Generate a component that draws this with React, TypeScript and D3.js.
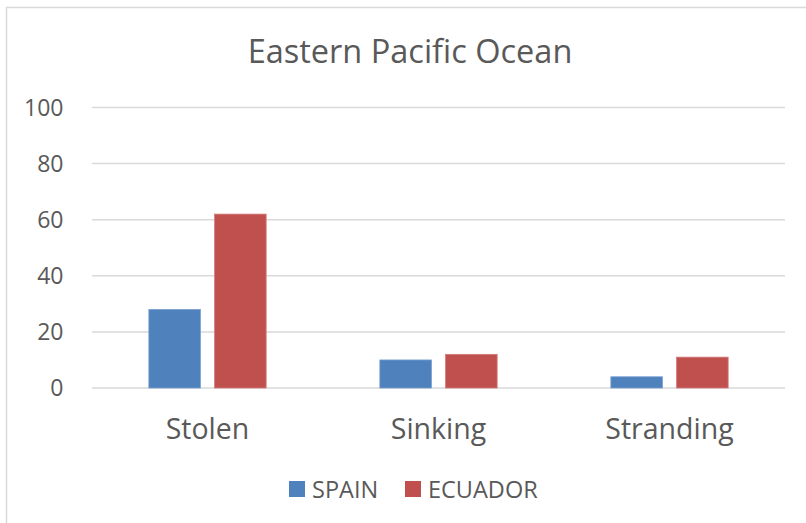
import React, { useEffect, useRef } from 'react';
import * as d3 from 'd3';

const categories = ['Stolen', 'Sinking', 'Stranding'];
const series = ['SPAIN', 'ECUADOR'];
const spainValues = [28, 10, 4];
const ecuadorValues = [62, 12, 11];
const yTicks = [0, 20, 40, 60, 80, 100];
const colors = ['#4F81BD', '#C0504D'];

const W = 806;
const H = 523;

const App = () => {
    const ref = useRef<SVGSVGElement>(null);

    useEffect(() => {
        if (!ref.current) return;
        const svg = d3.select(ref.current);
        svg.selectAll('*').remove();

        const font = "'Open Sans', sans-serif";
        const textColor = '#595959';
        const left = 92, right = 785, top = 107.5, bottom = 388;

        // chart frame
        svg.append('rect')
            .attr('x', 6.5).attr('y', 7.5)
            .attr('width', W + 20).attr('height', H + 20)
            .attr('fill', 'white')
            .attr('stroke', '#d9d9d9')
            .attr('stroke-width', 1.5);

        const x0 = d3.scaleBand().domain(categories).range([left, right]);
        const groupW = 117.3;
        const x1 = d3.scaleBand().domain(series)
            .range([x0.bandwidth() / 2 - groupW / 2, x0.bandwidth() / 2 + groupW / 2])
            .paddingInner(0.215);
        const y = d3.scaleLinear().domain([0, 100]).range([bottom, top]);

        svg.append('text')
            .attr('x', 410).attr('y', 63)
            .attr('text-anchor', 'middle')
            .attr('font-family', font).attr('font-size', 32.5)
            .attr('fill', textColor)
            .text('Eastern Pacific Ocean');

        // gridlines
        svg.append('g').selectAll('line').data(yTicks).enter().append('line')
            .attr('x1', left).attr('x2', right)
            .attr('y1', d => y(d)).attr('y2', d => y(d))
            .attr('stroke', '#d9d9d9').attr('stroke-width', 1.5);

        svg.append('g').selectAll('text').data(yTicks).enter().append('text')
            .attr('x', 63.5).attr('y', d => y(d))
            .attr('dy', '0.35em')
            .attr('text-anchor', 'end')
            .attr('font-family', font).attr('font-size', 23)
            .attr('fill', textColor)
            .text(d => d);

        const data = categories.map((c, i) => ({ cat: c, values: [spainValues[i], ecuadorValues[i]] }));
        const groups = svg.append('g').selectAll('g').data(data).enter().append('g')
            .attr('transform', d => `translate(${x0(d.cat)},0)`);
        groups.selectAll('rect')
            .data(d => d.values.map((v, j) => ({ key: series[j], v, j })))
            .enter().append('rect')
            .attr('x', d => x1(d.key)!)
            .attr('y', d => y(d.v))
            .attr('width', x1.bandwidth())
            .attr('height', d => y(0) - y(d.v))
            .attr('fill', d => colors[d.j])
            .attr('stroke', d => d.j === 0 ? '#7a9fd0' : '#d27c7a')
            .attr('stroke-width', 0.8);

        svg.append('g').selectAll('text').data(categories).enter().append('text')
            .attr('x', d => x0(d)! + x0.bandwidth() / 2)
            .attr('y', 439)
            .attr('text-anchor', 'middle')
            .attr('font-family', font).attr('font-size', 28.5)
            .attr('fill', textColor)
            .text(d => d);

        // legend
        const legendX = [289, 405];
        const legend = svg.append('g').selectAll('g').data(series).enter().append('g')
            .attr('transform', (d, i) => `translate(${legendX[i]},481)`);
        legend.append('rect')
            .attr('width', 16).attr('height', 16)
            .attr('fill', (d, i) => colors[i]);
        legend.append('text')
            .attr('x', 23).attr('y', 16.5)
            .attr('font-family', font).attr('font-size', 23.5)
            .attr('fill', textColor)
            .text(d => d);
    }, []);

    return <svg ref={ref} width={W} height={H} style={{ display: 'block', position: 'absolute', left: 0, top: 0 }} />;
};

export default App;
